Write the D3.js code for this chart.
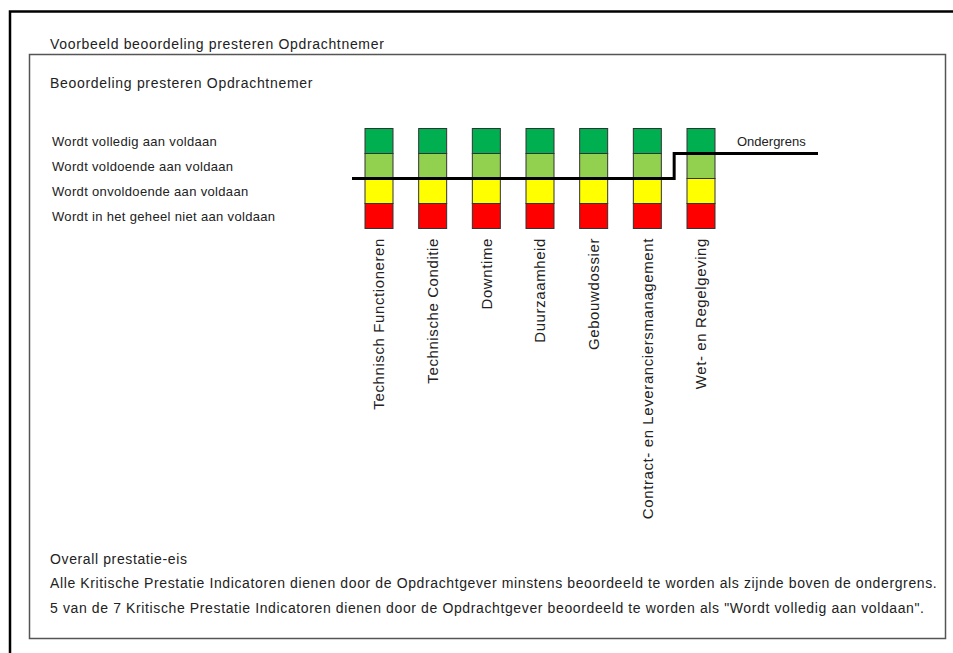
<!DOCTYPE html>
<html>
<head>
<meta charset="utf-8">
<script src="https://cdn.jsdelivr.net/npm/d3@7"></script>
<style>
  body { margin: 0; background: #fff; }
  text { font-family: "Liberation Sans", Arial, sans-serif; fill: #222; }
</style>
</head>
<body>
<div id="chart"></div>
<script>
var width = 953, height = 653;

var categories = ["Technisch Functioneren", "Technische Conditie", "Downtime", "Duurzaamheid",
    "Gebouwdossier", "Contract- en Leveranciersmanagement", "Wet- en Regelgeving"];
var levels = ["Wordt volledig aan voldaan", "Wordt voldoende aan voldaan",
    "Wordt onvoldoende aan voldaan", "Wordt in het geheel niet aan voldaan"];
var levelColors = ["#00b050", "#92d050", "#ffff00", "#ff0000"];
// lowest level that is still above the ondergrens, per category
var ondergrens = ["Wordt voldoende aan voldaan", "Wordt voldoende aan voldaan", "Wordt voldoende aan voldaan",
    "Wordt voldoende aan voldaan", "Wordt voldoende aan voldaan", "Wordt voldoende aan voldaan",
    "Wordt volledig aan voldaan"];
var footer = ["Overall prestatie-eis",
    "Alle Kritische Prestatie Indicatoren dienen door de Opdrachtgever minstens beoordeeld te worden als zijnde boven de ondergrens.",
    "5 van de 7 Kritische Prestatie Indicatoren dienen door de Opdrachtgever beoordeeld te worden als \"Wordt volledig aan voldaan\"."];

var barW = 28;

var svg = d3.select("#chart")
    .append("svg")
    .attr("width", width)
    .attr("height", height);

svg.append("rect").attr("width", width).attr("height", height).attr("fill", "#fff");

// outer frame
svg.append("path")
    .attr("d", "M10," + height + "V11.5H" + width)
    .attr("fill", "none")
    .attr("stroke", "#000")
    .attr("stroke-width", 2.5);

svg.append("text").attr("x", 50).attr("y", 49)
    .style("font-size", "14px").style("letter-spacing", "0.67px")
    .text("Voorbeeld beoordeling presteren Opdrachtnemer");

// inner box
svg.append("rect")
    .attr("x", 29.5).attr("y", 54.5)
    .attr("width", 916).attr("height", 584)
    .attr("fill", "none")
    .attr("stroke", "#555")
    .attr("stroke-width", 1.5);

svg.append("text").attr("x", 50).attr("y", 88)
    .style("font-size", "14px").style("letter-spacing", "0.69px")
    .text("Beoordeling presteren Opdrachtnemer");

var x = d3.scalePoint()
    .domain(categories)
    .range([379, 701]);

var y = d3.scaleBand()
    .domain(levels)
    .range([128.5, 228.5]);

// level labels
svg.append("g")
    .selectAll("text")
    .data(levels)
    .enter()
    .append("text")
    .attr("x", 52)
    .attr("y", d => y(d) + y.bandwidth() / 2)
    .attr("dy", "0.35em")
    .style("font-size", "13px")
    .style("letter-spacing", "0.33px")
    .text(d => d);

// cells
var cols = svg.append("g")
    .selectAll("g")
    .data(categories)
    .enter()
    .append("g")
    .attr("transform", d => "translate(" + (x(d) - barW / 2) + ",0)");

cols.selectAll("rect")
    .data(levels)
    .enter()
    .append("rect")
    .attr("x", 0)
    .attr("y", d => y(d))
    .attr("width", barW)
    .attr("height", y.bandwidth())
    .attr("fill", (d, i) => levelColors[i])
    .attr("stroke", "#333")
    .attr("stroke-width", 1);

// rotated category labels
svg.append("g")
    .selectAll("text")
    .data(categories)
    .enter()
    .append("text")
    .attr("transform", d => "translate(" + x(d) + ",238) rotate(-90)")
    .attr("dy", "0.35em")
    .style("text-anchor", "end")
    .style("font-size", "15px")
    .style("letter-spacing", "0.6px")
    .text(d => d);

// ondergrens step line
var lineY = (i) => y(ondergrens[i]) + y.bandwidth();
var half = x.step() / 2;
var pts = [[x(categories[0]) - barW / 2 - 13, lineY(0)]];
categories.forEach(function(c, i) {
    if (i > 0 && ondergrens[i] !== ondergrens[i - 1]) {
        pts.push([x(c) - half, lineY(i - 1)]);
        pts.push([x(c) - half, lineY(i)]);
    }
});
var last = categories.length - 1;
pts.push([x(categories[last]) + barW / 2 + 103, lineY(last)]);

svg.append("path")
    .attr("d", d3.line()(pts))
    .attr("fill", "none")
    .attr("stroke", "#000")
    .attr("stroke-width", 3);

svg.append("text")
    .attr("x", 737).attr("y", 141)
    .attr("dy", "0.35em")
    .style("font-size", "13px")
    .text("Ondergrens");

// footer text
svg.append("g")
    .selectAll("text")
    .data(footer)
    .enter()
    .append("text")
    .attr("x", 50)
    .attr("y", (d, i) => 559 + i * 24.5)
    .attr("dy", "0.35em")
    .style("font-size", "14px")
    .style("letter-spacing", "0.62px")
    .text(d => d);
</script>
</body>
</html>
